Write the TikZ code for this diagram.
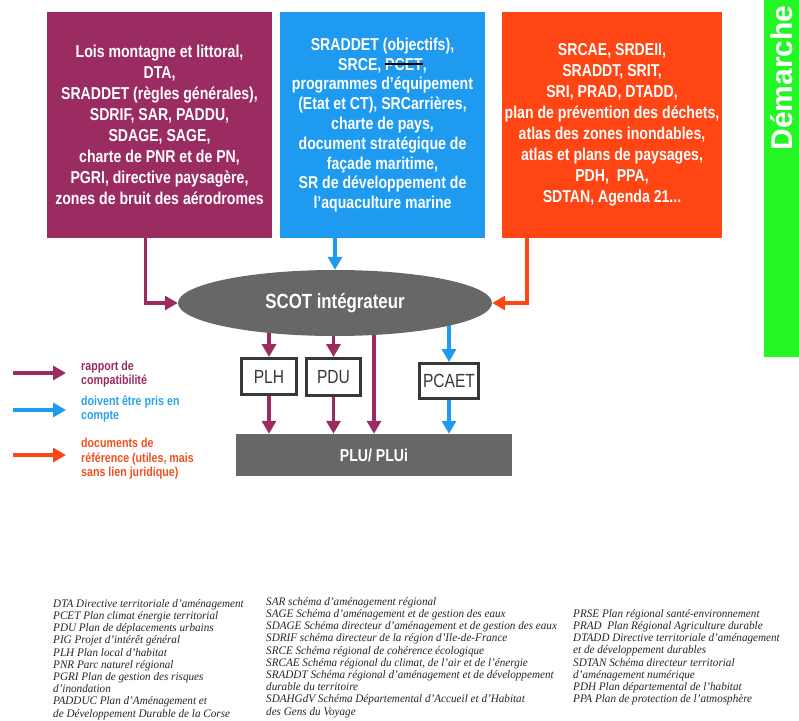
\documentclass[tikz,border=0pt]{standalone}
\usepackage{fontspec}
\setmainfont{Liberation Sans}
\newfontfamily\narrow{Liberation Sans}[FakeStretch=0.82]
\newfontfamily\notefont{Liberation Serif}[FakeStretch=0.97]
\usetikzlibrary{arrows.meta,shapes.geometric,backgrounds}

\definecolor{scotpurple}{HTML}{9A2C62}
\definecolor{scotblue}{HTML}{1E9BF0}
\definecolor{scotorange}{HTML}{FF4513}
\definecolor{scotgreen}{HTML}{24F524}
\definecolor{scotgray}{HTML}{676767}
\definecolor{boxgray}{HTML}{383838}
\definecolor{legblue}{HTML}{2AA2E8}
\definecolor{legorange}{HTML}{F2501E}

% struck-out word
\newlength{\barrelen}
\newcommand{\barre}[1]{\settowidth{\barrelen}{#1}#1\llap{\textcolor{black}{\rule[0.3em]{\barrelen}{1.6pt}}}}

\tikzset{
  doc/.style={rectangle, minimum height=226pt, inner sep=0pt, text=white, align=center,
    font=\narrow\bfseries\fontsize{17.2}{21}\selectfont},
  plan/.style={rectangle, draw=boxgray, line width=3pt, fill=white, inner sep=0pt,
    text=boxgray, font=\narrow\fontsize{19}{20}\selectfont},
  lien/.style={line width=3.2pt, -{Triangle[length=13pt,width=14pt]}},
  legende/.style={anchor=west, align=left, inner sep=0pt,
    font=\narrow\bfseries\fontsize{13}{14.5}\selectfont},
  note/.style={anchor=north west, align=left, inner sep=0pt, text=black!85,
    font=\notefont\itshape\fontsize{11.5}{12.2}\selectfont}
}

\begin{document}
\begin{tikzpicture}[x=1pt,y=-1pt]
\useasboundingbox (0,0) rectangle (799,720);

% Source documents
\node[doc, fill=scotpurple, minimum width=225pt] (lois) at (159.5,125)
  {Lois montagne et littoral,\\DTA,\\SRADDET (règles générales),\\SDRIF, SAR, PADDU,\\
   SDAGE, SAGE,\\charte de PNR et de PN,\\PGRI, directive paysagère,\\zones de bruit des aérodromes};
\node[doc, fill=scotblue, minimum width=205pt, font=\narrow\bfseries\fontsize{17.2}{19.8}\selectfont] (srad) at (382.5,125)
  {SRADDET (objectifs),\\SRCE, \barre{PCET},\\programmes d’équipement\\(Etat et CT), SRCarrières,\\
   charte de pays,\\document stratégique de\\façade maritime,\\SR de développement de\\l’aquaculture marine};
\node[doc, fill=scotorange, minimum width=220pt] (srcae) at (612,125)
  {SRCAE, SRDEII,\\SRADDT, SRIT,\\SRI, PRAD, DTADD,\\plan de prévention des déchets,\\
   atlas des zones inondables,\\atlas et plans de paysages,\\PDH,\ \ PPA,\\SDTAN, Agenda 21...};

% Green band
\fill[scotgreen] (764,0) rectangle (799,357);
\node[rotate=90, text=white, inner sep=0pt, font=\bfseries\fontsize{30}{30}\selectfont] (demarche) at (782,78) {Démarche};

% SCOT and plans
\node[ellipse, fill=scotgray, minimum width=314pt, minimum height=66pt, inner sep=0pt, text=white,
  font=\narrow\bfseries\fontsize{20.5}{20}\selectfont] (scot) at (335,303) {SCOT intégrateur};
\node[plan, minimum width=55pt, minimum height=36pt] (plh) at (269,376.5) {PLH};
\node[plan, minimum width=54pt, minimum height=37pt] (pdu) at (333.5,377) {PDU};
\node[plan, minimum width=59pt, minimum height=35pt] (pcaet) at (449,381) {PCAET};
\node[rectangle, fill=scotgray, minimum width=276pt, minimum height=42pt, text=white,
  font=\narrow\bfseries\fontsize{17.2}{17}\selectfont] (plu) at (374,455) {PLU/ PLUi};

% Links to the SCOT
\draw[lien, scotpurple] ([xshift=-14pt]lois.south) |- (scot.west);
\draw[lien, scotblue] (scot.north |- srad.south) -- (scot.north);
\draw[lien, scotorange] ([xshift=-85pt]srcae.south) |- (scot.east);

% Links down to the PLU
\begin{scope}[on background layer]
  \draw[lien, scotpurple] (plh.north |- scot.center) -- (plh.north);
  \draw[lien, scotpurple] (pdu.north |- scot.center) -- (pdu.north);
  \draw[lien, scotpurple] (plu.north |- scot.center) -- (plu.north);
  \draw[lien, scotblue] (pcaet.north |- scot.center) -- (pcaet.north);
\end{scope}
\draw[lien, scotpurple] (plh.south) -- (plh.south |- plu.north);
\draw[lien, scotpurple] (pdu.south) -- (pdu.south |- plu.north);
\draw[lien, scotblue] (pcaet.south) -- (pcaet.south |- plu.north);

% Legend
\coordinate (l1a) at (13,373); \coordinate (l1b) at (66,373);
\coordinate (l2a) at (13,410); \coordinate (l2b) at (66,410);
\coordinate (l3a) at (13,455); \coordinate (l3b) at (66,455);
\draw[lien, scotpurple] (l1a) -- (l1b);
\draw[lien, scotblue] (l2a) -- (l2b);
\draw[lien, scotorange] (l3a) -- (l3b);
\node[legende, text=scotpurple] (leg1) at (81,374) {rapport de\\compatibilité};
\node[legende, text=legblue] (leg2) at (81,409) {doivent être pris en\\compte};
\node[legende, text=legorange] (leg3) at (81,459) {documents de\\référence (utiles, mais\\sans lien juridique)};

% Abbreviations
\node[note] (n1) at (53,599)
  {DTA Directive territoriale d’aménagement\\PCET Plan climat énergie territorial\\
   PDU Plan de déplacements urbains\\PIG Projet d’intérêt général\\PLH Plan local d’habitat\\
   PNR Parc naturel régional\\PGRI Plan de gestion des risques\\d’inondation\\
   PADDUC Plan d’Aménagement et\\de Développement Durable de la Corse};
\node[note] (n2) at (266,597)
  {SAR schéma d’aménagement régional\\SAGE Schéma d’aménagement et de gestion des eaux\\
   SDAGE Schéma directeur d’aménagement et de gestion des eaux\\
   SDRIF schéma directeur de la région d’Ile-de-France\\SRCE Schéma régional de cohérence écologique\\
   SRCAE Schéma régional du climat, de l’air et de l’énergie\\
   SRADDT Schéma régional d’aménagement et de développement\\durable du territoire\\
   SDAHGdV Schéma Départemental d’Accueil et d’Habitat\\des Gens du Voyage};
\node[note] (n3) at (573,609)
  {PRSE Plan régional santé-environnement\\PRAD\ \ Plan Régional Agriculture durable\\
   DTADD Directive territoriale d’aménagement\\et de développement durables\\
   SDTAN Schéma directeur territorial\\d’aménagement numérique\\
   PDH Plan départemental de l’habitat\\PPA Plan de protection de l’atmosphère};
\end{tikzpicture}
\end{document}
